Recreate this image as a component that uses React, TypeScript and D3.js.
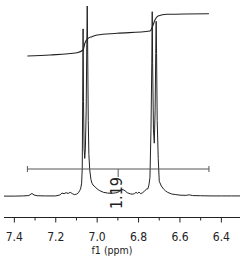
import React from "react";
import * as d3 from "d3";

// spectrum: [ppm, intensity]
const spectrumPpm: number[] = [
  7.45, 7.40, 7.36, 7.33, 7.315, 7.305, 7.29, 7.25, 7.20, 7.18, 7.17, 7.16, 7.15, 7.14, 7.13, 7.12, 7.11, 7.10, 7.09,
  7.085, 7.08, 7.075, 7.072, 7.070, 7.068, 7.066, 7.063, 7.060, 7.057, 7.053, 7.050, 7.048, 7.046, 7.043, 7.040,
  7.036, 7.030, 7.025, 7.020, 7.010, 7.00, 6.99, 6.97, 6.95, 6.93, 6.91, 6.895, 6.885, 6.875, 6.865, 6.855, 6.84,
  6.83, 6.82, 6.812, 6.805, 6.798, 6.79, 6.78, 6.77, 6.76, 6.755, 6.75, 6.745, 6.740, 6.736, 6.734, 6.732, 6.728,
  6.724, 6.720, 6.717, 6.715, 6.713, 6.710, 6.705, 6.70, 6.69, 6.68, 6.67, 6.66, 6.64, 6.62, 6.60, 6.57, 6.555,
  6.54, 6.50, 6.45, 6.40, 6.35, 6.31,
];
const spectrumIntensity: number[] = [
  0.2, 0.2, 0.3, 0.5, 1.6, 0.8, 0.4, 0.3, 0.3, 0.8, 1.8, 1.5, 2.0, 1.6, 2.2, 1.5, 1.0, 1.2, 2.0,
  3.0, 4.0, 7, 15, 50, 88, 50, 25, 20, 25, 45, 80, 100, 80, 40, 22,
  14, 9, 7, 6, 5, 4, 3.2, 2.2, 1.8, 1.7, 1.9, 2.5, 3.5, 3.6, 3.0, 2.0, 1.4,
  1.2, 1.5, 2.2, 1.6, 2.3, 1.5, 2.0, 3.0, 4.0, 4.0, 6, 10, 35, 70, 97, 70, 35,
  28, 45, 75, 92, 75, 40, 20, 8, 5.5, 4, 3, 2.2, 1.3, 1.0, 0.7, 0.6, 0.9,
  0.5, 0.4, 0.3, 0.3, 0.3, 0.3,
];

// integral curve: [ppm, normalized value]
const integralPpm: number[] = [7.337, 7.228, 7.097, 7.068, 7.059, 7.044, 7.025, 7.001, 6.904, 6.745, 6.730, 6.721, 6.706, 6.663, 6.46];
const integralValue: number[] = [0, 0.024, 0.079, 0.143, 0.31, 0.42, 0.46, 0.5, 0.54, 0.595, 0.738, 0.857, 0.952, 0.993, 1.007];

// integration region
const integralRange: [number, number] = [7.337, 6.46];
const integralLabel = "1.19";

const majorTicks: number[] = [7.4, 7.2, 7.0, 6.8, 6.6, 6.4];
const minorTicks: number[] = [7.3, 7.1, 6.9, 6.7, 6.5];

const W = 240;
const H = 260;

export default function App() {
  const x = d3.scaleLinear().domain([7.45, 6.31]).range([4, 240]);
  const y = d3.scaleLinear().domain([0, 100]).range([196.5, 6]);
  const yi = d3.scaleLinear().domain([0, 1]).range([56, 14]);

  const specData = spectrumPpm.map((p, i) => [p, spectrumIntensity[i]] as [number, number]);
  const intData = integralPpm.map((p, i) => [p, integralValue[i]] as [number, number]);

  const specLine = d3.line<[number, number]>().x((d) => x(d[0])).y((d) => y(d[1]));
  const intLine = d3
    .line<[number, number]>()
    .x((d) => x(d[0]))
    .y((d) => yi(d[1]))
    .curve(d3.curveMonotoneX);

  const axisY = 217.5;
  const barY = 169;
  const x1 = x(integralRange[0]);
  const x2 = x(integralRange[1]);
  const xm = (x1 + x2) / 2;
  const font = "'DejaVu Sans Condensed', 'DejaVu Sans', sans-serif";

  return (
    <svg width={W} height={H} style={{ position: "absolute", left: 0, top: 0, background: "#fff" }}>
      {/* integral curve */}
      <path d={intLine(intData) || ""} fill="none" stroke="#222" strokeWidth={1.1} />
      {/* spectrum */}
      <path d={specLine(specData) || ""} fill="none" stroke="#222" strokeWidth={1} strokeLinejoin="round" />
      {/* integration bar */}
      <g stroke="#555" strokeWidth={1}>
        <line x1={x1} x2={x2} y1={barY} y2={barY} />
        <line x1={x1} x2={x1} y1={barY - 3} y2={barY + 3} />
        <line x1={x2} x2={x2} y1={barY - 3} y2={barY + 3} />
        <line x1={xm} x2={xm} y1={barY} y2={barY + 8} />
      </g>
      <text
        transform={`translate(${xm + 4},${barY + 8}) rotate(-90)`}
        textAnchor="end"
        fontFamily={font}
        fontSize={16}
        fill="#222"
      >
        {integralLabel}
      </text>
      {/* axis */}
      <line x1={4} x2={240} y1={axisY} y2={axisY} stroke="#222" strokeWidth={1} />
      {majorTicks.map((t) => (
        <line key={"M" + t} x1={x(t)} x2={x(t)} y1={axisY} y2={axisY + 5} stroke="#222" strokeWidth={1} />
      ))}
      {minorTicks.map((t) => (
        <line key={"m" + t} x1={x(t)} x2={x(t)} y1={axisY} y2={axisY + 3} stroke="#222" strokeWidth={1} />
      ))}
      {majorTicks.map((t) => (
        <text key={"t" + t} x={x(t)} y={241} textAnchor="middle" fontFamily={font} fontSize={12} fill="#222">
          {t.toFixed(1)}
        </text>
      ))}
      <text x={112} y={254} textAnchor="middle" fontFamily={font} fontSize={10.5} fill="#222">
        f1 (ppm)
      </text>
    </svg>
  );
}
